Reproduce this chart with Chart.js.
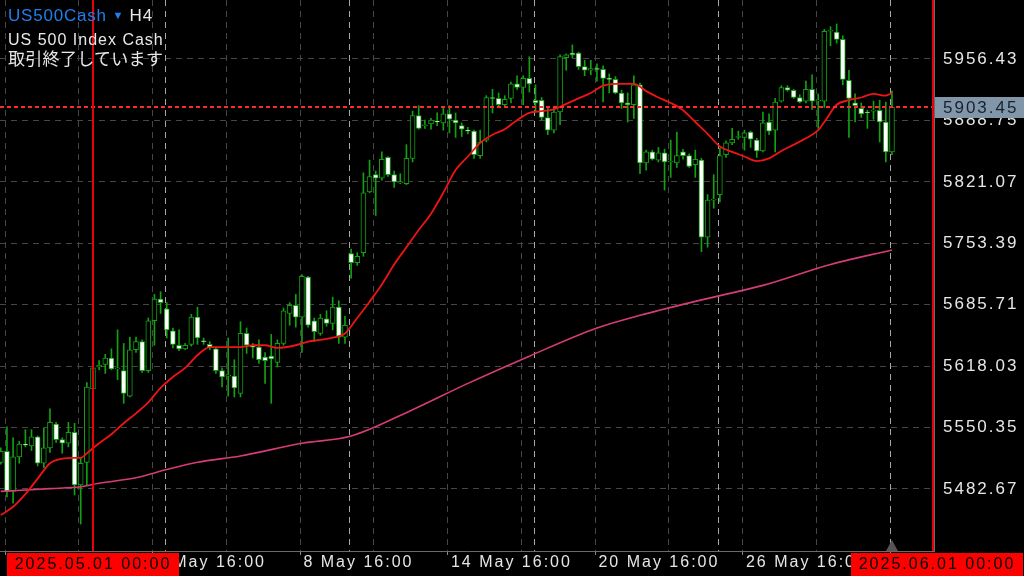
<!DOCTYPE html>
<html>
<head>
<meta charset="utf-8">
<script src="https://cdn.jsdelivr.net/npm/chart.js@4.4.0/dist/chart.umd.min.js"></script>
<style>
html, body { margin: 0; padding: 0; background: #000; }
#wrap { position: relative; width: 1024px; height: 576px; overflow: hidden; }
canvas { display: block; }
.info { position: absolute; left: 8px; color: #e8e8e8; font-family: "Liberation Sans", Arial, sans-serif; font-size: 16px; letter-spacing: 1px; white-space: nowrap; line-height: 20px; }
.sym { color: #1f7ff0; }
</style>
</head>
<body>
<div id="wrap">
  <canvas id="chart" width="1024" height="576"></canvas>
  <div class="info" style="top:6px;font-size:17px;letter-spacing:0.8px"><span class="sym">US500Cash</span> <span class="sym" style="font-size:11px;position:relative;top:-2px">▼</span> H4</div>
  <div class="info" style="top:30px">US 500 Index Cash</div>
  <div class="info" style="top:48px;font-family:'Noto Sans CJK JP';font-size:17px;letter-spacing:0.3px">取引終了しています</div>
</div>
<script>
// H4 bars, index 0 = 2025.05.01 00:00
const firstBar = -15;
const open = [
  5512,5524,5480,5518,5532,5530,5540,5511,5528,5554,5537,5533,5545,5487,5512,
  5593,5617,5620,5627,5615,5613,5585,5636,5645,5613,
  5668,5692,5681,5657,5641,5637,5642,5672,5646,5642,
  5637,5613,5607,5607,5588,5654,5640,5639,5628,5629,
  5622,5643,5676,5685,5672,5716,5668,5654,5670,5665,
  5683,5650,5742,5732,5743,5810,5829,5825,5848,5829,
  5820,5819,5847,5894,5883,5885,5888,5886,5896,5889,
  5883,5878,5877,5850,5867,5914,5913,5906,5913,5929,
  5925,5935,5911,5911,5892,5878,5898,5958,5963,5963,
  5948,5944,5946,5945,5935,5934,5919,5908,5906,5928,
  5842,5854,5845,5853,5843,5842,5854,5850,5840,5845,
  5760,5801,5807,5851,5864,5870,5870,5876,5867,5855,
  5887,5878,5910,5925,5922,5914,5910,5923,5910,5910,
  5987,5986,5978,5933,5908,5902,5898,5899,5900,5887,5854
];
const high = [
  5528,5551,5539,5535,5548,5548,5541,5550,5571,5556,5539,5556,5555,5517,5600,
  5624,5624,5631,5637,5658,5643,5650,5650,5647,5671,
  5697,5700,5688,5660,5658,5643,5675,5683,5649,5645,
  5639,5616,5649,5625,5667,5660,5643,5647,5633,5653,
  5647,5682,5688,5697,5719,5717,5671,5675,5679,5694,
  5690,5673,5747,5743,5831,5845,5833,5854,5849,5833,
  5830,5862,5899,5905,5889,5891,5897,5903,5905,5897,
  5886,5881,5878,5878,5916,5923,5919,5916,5931,5938,
  5938,5959,5928,5914,5902,5902,5961,5962,5972,5964,
  5955,5955,5951,5949,5940,5937,5922,5919,5938,5930,
  5856,5856,5859,5857,5867,5876,5857,5852,5856,5847,
  5807,5829,5858,5866,5880,5877,5878,5877,5869,5898,
  5896,5913,5927,5927,5923,5917,5932,5939,5918,5989,
  5992,5995,5982,5944,5918,5908,5900,5910,5911,5909,5921
];
const low = [
  5510,5474,5467,5511,5529,5525,5508,5506,5523,5534,5522,5529,5476,5444,5487,
  5592,5614,5610,5614,5603,5577,5584,5633,5611,5611,
  5641,5676,5649,5638,5635,5636,5640,5642,5642,5636,
  5610,5595,5585,5584,5584,5632,5627,5621,5599,5577,
  5617,5641,5663,5661,5633,5661,5645,5652,5662,5658,
  5643,5643,5715,5729,5739,5809,5784,5823,5827,5815,
  5819,5818,5843,5879,5880,5879,5883,5878,5875,5870,
  5871,5874,5847,5847,5865,5897,5903,5903,5908,5923,
  5906,5920,5898,5889,5873,5875,5884,5944,5958,5945,
  5938,5939,5932,5909,5919,5918,5902,5887,5891,5830,
  5834,5845,5843,5812,5826,5837,5846,5837,5826,5744,
  5749,5792,5799,5848,5862,5868,5856,5859,5848,5854,
  5873,5854,5909,5921,5913,5908,5908,5901,5880,5903,
  5971,5974,5928,5870,5887,5892,5880,5890,5865,5843,5851
];
const close = [
  5524,5480,5518,5532,5531,5540,5511,5528,5556,5537,5533,5545,5487,5511,5595,
  5616,5619,5627,5615,5616,5588,5636,5645,5613,5668,
  5692,5688,5658,5642,5637,5641,5672,5649,5645,5639,
  5613,5606,5608,5594,5654,5641,5639,5625,5624,5626,
  5643,5679,5685,5672,5717,5663,5656,5671,5665,5683,
  5650,5663,5732,5739,5809,5827,5825,5846,5829,5821,
  5821,5847,5894,5880,5884,5889,5887,5896,5890,5886,
  5879,5877,5851,5865,5914,5913,5906,5912,5929,5925,
  5935,5929,5908,5892,5878,5898,5959,5961,5961,5948,
  5944,5946,5945,5935,5934,5919,5908,5906,5928,5842,
  5854,5846,5853,5843,5844,5850,5850,5838,5846,5760,
  5801,5802,5850,5864,5868,5871,5875,5868,5855,5886,
  5877,5909,5925,5922,5914,5909,5923,5910,5911,5987,
  5988,5978,5934,5913,5905,5896,5897,5900,5887,5854,5903.45
];

// moving averages (bar index, price)
const maFastBars = [-15,-13,-11,-9,-7,-5,-3,-2,-1,1,3,5,7,9,11,13,15,17,19,21,24,26,28,30,33,35,37,40,41,43,45,47,49,51,53,55,57,59,61,63,65,67,69,71,73,75,77,79,81,83,85,88,90,92,94,96,98,100,102,104,106,108,110,112,114,116,118,119,121,123,125,127,129,130];
const maFastVals = [5454,5463,5477,5494,5511,5516,5517,5517,5522,5533,5543,5555,5566,5578,5594,5606,5616,5630,5639,5639,5639,5641,5641,5638,5641,5645,5647,5651,5654,5671,5689,5708,5730,5749,5768,5786,5809,5834,5849,5864,5873,5879,5889,5897,5899,5901,5907,5913,5919,5927,5929,5929,5921,5914,5908,5900,5887,5874,5860,5854,5849,5844,5847,5855,5862,5869,5878,5887,5906,5911,5914,5918,5916,5919];
const maSlowBars = [-15,-7,-2,1,7,12,17,24,34,42,52,61,71,82,89,99,109,120,130];
const maSlowVals = [5480,5483,5485,5489,5495,5504,5512,5519,5533,5541,5570,5599,5629,5660,5674,5691,5707,5730,5746];

const yTicks = [5482.67, 5550.35, 5618.03, 5685.71, 5753.39, 5821.07, 5888.75, 5956.43];
const xGridBars = [-14, -2, 10, 22, 34, 46, 58, 70, 82, 94, 106, 118, 130];
const xTickLabels = ['', '', '2 May 16:00', '', '8 May 16:00', '', '14 May 16:00', '', '20 May 16:00', '', '26 May 16:00', '', ''];
const weekBars = [12, 42, 72, 102, 130];
const startLabel = '2025.05.01 00:00';
const endLabel = '2025.06.01 00:00';
const lastPrice = 5903.45;

const green = '#13a013';
const gridShift = -0.3;
const fontFamily = "'Liberation Sans', Arial, sans-serif";

const barIdx = open.map((_, k) => firstBar + k);
const wicks = barIdx.map((b, k) => ({ x: b, y: [low[k], high[k]] }));
const bodies = barIdx.map((b, k) => ({ x: b, y: [open[k], close[k]] }));
const bodyFill = barIdx.map((b, k) => close[k] > open[k] ? '#000000' : '#ffffff');
const maFast = maFastBars.map((b, k) => ({ x: b, y: maFastVals[k] }));
const maSlow = maSlowBars.map((b, k) => ({ x: b, y: maSlowVals[k] }));

function noPad(s) {
    s.paddingTop = 0; s.paddingBottom = 0; s.paddingLeft = 0; s.paddingRight = 0;
}

function redTag(ctx, cx, cy, text) {
    ctx.font = '16px ' + fontFamily;
    const w = 172;
    ctx.fillStyle = '#ff0000';
    ctx.fillRect(Math.round(cx - w / 2), cy - 11, w, 24);
    ctx.fillStyle = '#000';
    ctx.textAlign = 'center';
    ctx.textBaseline = 'middle';
    ctx.fillText(text, cx, cy + 1);
}

const overlay = {
    id: 'overlay',
    beforeDraw(chart) {
        const ctx = chart.ctx;
        ctx.save();
        ctx.fillStyle = '#000';
        ctx.fillRect(0, 0, chart.width, chart.height);
        ctx.restore();
        ctx.letterSpacing = '2px';
    },
    beforeDatasetsDraw(chart) {
        const { ctx, chartArea: a, scales: { x } } = chart;
        ctx.save();
        ctx.strokeStyle = '#a8a8a8';
        ctx.lineWidth = 1;
        ctx.setLineDash([6, 5]);
        weekBars.forEach(b => {
            const px = Math.round(x.getPixelForValue(b + gridShift)) + 0.5;
            ctx.beginPath();
            ctx.moveTo(px, a.top);
            ctx.lineTo(px, a.bottom);
            ctx.stroke();
        });
        ctx.restore();
    },
    afterDraw(chart) {
        const { ctx, chartArea: a, scales: { x, y } } = chart;
        ctx.save();
        ctx.letterSpacing = '2px';

        // last price dotted line
        const py = Math.round(y.getPixelForValue(lastPrice));
        ctx.strokeStyle = '#ff2a2a';
        ctx.lineWidth = 2;
        ctx.setLineDash([4, 3]);
        ctx.beginPath();
        ctx.moveTo(a.left, py);
        ctx.lineTo(a.right, py);
        ctx.stroke();
        ctx.setLineDash([]);

        // start / end markers
        const sx = Math.round(x.getPixelForValue(0));
        ctx.strokeStyle = '#e8000a';
        ctx.lineWidth = 2;
        ctx.beginPath();
        ctx.moveTo(sx, a.top);
        ctx.lineTo(sx, a.bottom);
        ctx.moveTo(a.right - 1, a.top);
        ctx.lineTo(a.right - 1, a.bottom);
        ctx.stroke();

        // last bar marker
        const lx = x.getPixelForValue(barIdx[barIdx.length - 1]);
        ctx.fillStyle = '#555';
        ctx.beginPath();
        ctx.moveTo(lx - 6, a.bottom);
        ctx.lineTo(lx, a.bottom - 11);
        ctx.lineTo(lx + 6, a.bottom);
        ctx.closePath();
        ctx.fill();

        // price box
        ctx.fillStyle = '#8296aa';
        ctx.fillRect(a.right + 1, py - 10, chart.width - a.right, 21);
        ctx.fillStyle = '#18222c';
        ctx.font = '17px ' + fontFamily;
        ctx.textAlign = 'left';
        ctx.textBaseline = 'middle';
        ctx.fillText(lastPrice.toFixed(2), a.right + 9, py + 1);

        redTag(ctx, sx, a.bottom + 13, startLabel);
        redTag(ctx, a.right + 3, a.bottom + 13, endLabel);
        ctx.restore();
    }
};

new Chart(document.getElementById('chart'), {
    type: 'bar',
    data: {
        datasets: [
            { type: 'line', data: maFast, borderColor: '#f01414', borderWidth: 1.8, pointRadius: 0, cubicInterpolationMode: 'monotone', order: 0 },
            { type: 'line', data: maSlow, borderColor: '#d63c78', borderWidth: 1.6, pointRadius: 0, cubicInterpolationMode: 'monotone', order: 0 },
            { data: bodies, backgroundColor: bodyFill, borderColor: green, borderWidth: 1, borderSkipped: false, barThickness: 5, grouped: false, order: 1 },
            { data: wicks, backgroundColor: green, borderWidth: 0, barThickness: 1, grouped: false, order: 2 }
        ]
    },
    options: {
        responsive: false,
        animation: false,
        layout: { padding: 0 },
        plugins: { legend: { display: false }, tooltip: { enabled: false } },
        scales: {
            x: {
                type: 'linear',
                min: -15.13,
                max: 136.84,
                offset: false,
                afterBuildTicks(s) { s.ticks = xGridBars.map(v => ({ value: v + gridShift })); },
                afterFit(s) { s.height = 25; noPad(s); },
                grid: {
                    offset: false,
                    color: '#464646',
                    tickLength: 4,
                    tickColor: c => c.index % 2 === 0 ? '#8a8a8a' : 'rgba(0,0,0,0)'
                },
                border: { color: '#6a6a6a', dash: [6, 5] },
                ticks: {
                    autoSkip: false,
                    maxRotation: 0,
                    align: 'start',
                    padding: 0,
                    color: '#e6e6e6',
                    font: { family: fontFamily, size: 16, lineHeight: 1 },
                    callback: (v, i) => xTickLabels[i] ? '\u200a' + xTickLabels[i] : ''
                }
            },
            y: {
                position: 'right',
                min: 5414.28,
                max: 6021.44,
                afterBuildTicks(s) { s.ticks = yTicks.map(v => ({ value: v })); },
                afterFit(s) { s.width = 90; noPad(s); },
                grid: { color: '#464646', drawTicks: false },
                border: { color: '#6a6a6a', dash: [6, 5] },
                ticks: {
                    padding: 9,
                    color: '#e6e6e6',
                    font: { family: fontFamily, size: 17 },
                    callback: v => v.toFixed(2)
                }
            }
        }
    },
    plugins: [overlay]
});
</script>
</body>
</html>
